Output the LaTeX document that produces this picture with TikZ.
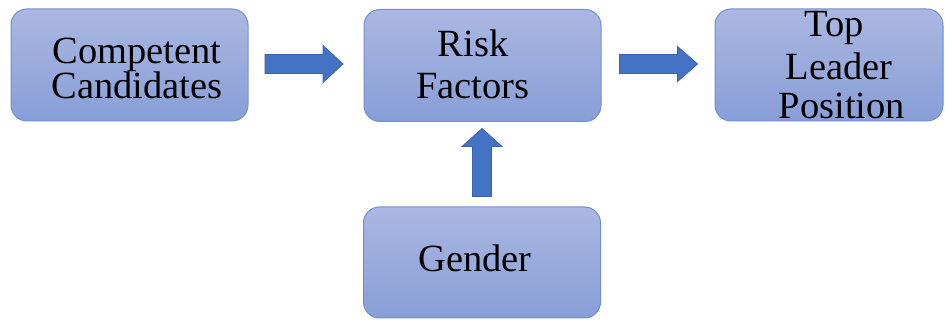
\documentclass[tikz,border=0pt]{standalone}
\usepackage{fontspec}
\newfontfamily\labelfont{LiberationSerif}[Extension=.ttf, UprightFont=*-Regular, BoldFont=*-Bold]
\usetikzlibrary{calc}
\definecolor{boxtop}{HTML}{AAB8E1}
\definecolor{boxbot}{HTML}{889ED8}
\definecolor{boxline}{HTML}{7090D0}
\definecolor{arrfill}{HTML}{4472C4}
\definecolor{arrline}{HTML}{3A64AE}
\newcommand\blockarrow[5]{% start, length, rotation, head length, head half width
  \begin{scope}[shift={#1}, rotate=#3]
    \draw[barrow] (0,-9.5) -- (#2-#4,-9.5) -- (#2-#4,-#5) -- (#2,0) -- (#2-#4,#5) -- (#2-#4,9.5) -- (0,9.5) -- cycle;
  \end{scope}}
\begin{document}
\begin{tikzpicture}[x=1pt,y=-1pt,
  box/.style={draw=boxline, line width=1pt, rounded corners=16pt, top color=boxtop, bottom color=boxbot,
    minimum width=237pt, minimum height=112pt, inner sep=0pt},
  lbl/.style={anchor=base, inner sep=0pt, font=\labelfont\fontsize{38.5}{40}\selectfont},
  barrow/.style={fill=arrfill, draw=arrline, line width=0.8pt, line join=miter}
  ]
\useasboundingbox (0,0) rectangle (945,320);
\fill[white] (0,0) rectangle (945,320);

\node[box] (cc) at (129.5,65) {};
\node[box] (rf) at (482.5,65.5) {};
\node[box, minimum width=228pt] (tl) at (829,65) {};
\node[box, minimum height=111pt] (gd) at (482,262.5) {};

\node[lbl] (cc1) at (137,64) {Competent};
\node[lbl] (cc2) at (137,99) {Candidates};
\node[lbl] (rf1) at (473,57) {Risk};
\node[lbl] (rf2) at (473,99) {Factors};
\node[lbl] (tl1) at (834,37) {Top};
\node[lbl] (tl2) at (839,80) {Leader};
\node[lbl] (tl3) at (842,119) {Position};
\node[lbl] (gd1) at (475,272) {Gender};

\coordinate (a1) at ($(cc.east)+(16.5,-1)$);
\coordinate (a2) at ($(rf.east)+(18,-1.5)$);
\coordinate (a3) at ($(gd.north)+(0,-10)$);
\blockarrow{(a1)}{78}{0}{20}{18.5}
\blockarrow{(a2)}{78}{0}{20}{17.5}
\blockarrow{(a3)}{68}{90}{18}{20}
\end{tikzpicture}
\end{document}
